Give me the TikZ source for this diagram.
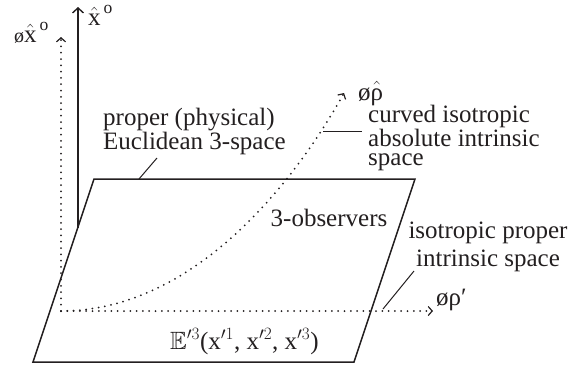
\documentclass[tikz,border=0pt]{standalone}
\usepackage{amsmath,amssymb}
\usepackage{fontspec}
\setmainfont{Liberation Serif}
\usetikzlibrary{arrows.meta}
\definecolor{ink}{HTML}{231F20}
\begin{document}
\begin{tikzpicture}[x=1pt,y=-1pt,
  solidline/.style={draw=ink, line width=1.5pt},
  dotline/.style={draw=ink, line width=2pt, line cap=round, dash pattern=on 0pt off 6.3pt},
  leader/.style={draw=ink, line width=1pt},
  chev/.style={-{Straight Barb[length=4pt,width=9pt,line width=1.2pt]}},
  bigarrow/.style={-{Straight Barb[length=5pt,width=11pt,line width=1.4pt]}},
  lbl/.style={text=ink, font=\fontsize{25}{19}\selectfont, inner sep=0pt}]
\useasboundingbox (0,0) rectangle (587,368);
% plane corners
\coordinate (TL) at (94,179);
\coordinate (TR) at (415,179);
\coordinate (BR) at (354,362);
\coordinate (BL) at (33,362);
% axes points
\coordinate (O) at (61,311);
\coordinate (vtop) at (61,37);
\coordinate (htip) at (433,311);
\coordinate (ctip) at (344,93);
\coordinate (ax0) at (78,228);
\coordinate (axtop) at (78,7);
% dotted axes and curve
\draw[dotline, chev] (O) -- (vtop);
\draw[dotline, chev] (O) -- (htip);
\draw[dotline, chev] (O) .. controls (190,311) and (290,190) .. (ctip);
% plane
\draw[solidline, line join=miter] (TL) -- (TR) -- (BR) -- (BL) -- cycle;
% solid axis
\draw[solidline, bigarrow] (ax0) -- (axtop);
% axis labels
\node[lbl, anchor=base west] (xo) at (88,25) {$\hat{\text{x}}^{\,\text{o}}$};
\node[lbl, anchor=base west] (oxo) at (14,42) {\fontsize{20}{20}\selectfont ø\fontsize{25}{19}\selectfont$\hat{\text{x}}^{\,\text{o}}$};
\node[lbl, anchor=base west] (orho) at (358,100) {ø$\hat{\text{ρ}}$};
\node[lbl, anchor=base west] (orhop) at (436,305) {øρ′};
% text labels (base anchor = baseline of last line)
\node[lbl, anchor=base west, align=left] (phys) at (103,149) {proper (physical)\\Euclidean 3-space};
\node[lbl, anchor=base west, align=left] (curved) at (368,165) {curved isotropic\\absolute intrinsic\\space};
\node[lbl, anchor=base] (obs) at (329,226) {3-observers};
\node[lbl, anchor=base, align=center, font=\fontsize{25}{28}\selectfont] (iso) at (488,266) {isotropic proper\\intrinsic space};
\node[lbl, anchor=base west] (E) at (170,349) {$\mathbb{E}'^{3}$(x$'^{1}$, x$'^{2}$, x$'^{3}$)};
% leaders
\coordinate (lp0) at (139,179);
\coordinate (lp1) at (157,158);
\draw[leader] (lp0) -- (lp1);
\coordinate (lc0) at (323,131);
\coordinate (lc1) at (362,131);
\draw[leader] (lc0) -- (lc1);
\coordinate (li0) at (383,309);
\coordinate (li1) at (414,271);
\draw[leader] (li0) -- (li1);
\end{tikzpicture}
\end{document}
